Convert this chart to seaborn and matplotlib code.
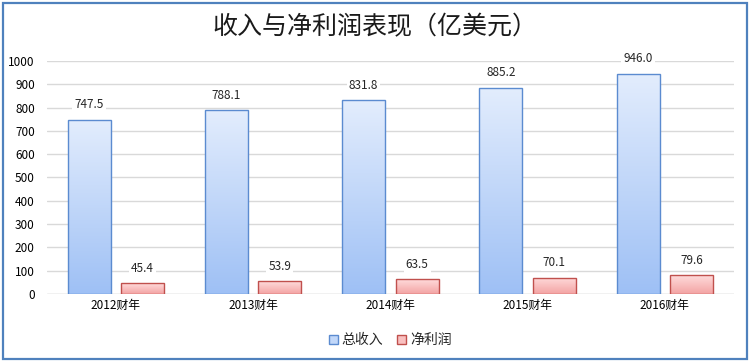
import numpy as np
import pandas as pd
import matplotlib
matplotlib.use("Agg")
import matplotlib.pyplot as plt
import seaborn as sns
from matplotlib.colors import LinearSegmentedColormap
from matplotlib.patches import Rectangle

years = ["2012财年", "2013财年", "2014财年", "2015财年", "2016财年"]
revenue = [747.5, 788.1, 831.8, 885.2, 946.0]
net_profit = [45.4, 53.9, 63.5, 70.1, 79.6]
series = ["总收入", "净利润"]
yticks = list(range(0, 1001, 100))

df = pd.DataFrame({
    "year": years * 2,
    "series": [series[0]] * len(years) + [series[1]] * len(years),
    "value": revenue + net_profit,
})

sns.set_theme(style="white")
plt.rcParams["font.family"] = ["Noto Sans CJK SC", "DejaVu Sans"]

fig = plt.figure(figsize=(7.5, 3.61), dpi=100)
ax = fig.add_axes([0.063, 0.186, 0.915, 0.645])

edge = {"总收入": "#5B8BD0", "净利润": "#C0504D"}
grad = {
    "总收入": LinearSegmentedColormap.from_list("b", ["#9EC0F5", "#E3EDFD"]),
    "净利润": LinearSegmentedColormap.from_list("r", ["#F3A3A3", "#FFDCDC"]),
}

sns.barplot(data=df, x="year", y="value", hue="series", hue_order=series,
            palette={"总收入": "#C6D9F7", "净利润": "#F9C4C4"},
            width=0.78, gap=0.2, ax=ax, legend=True, zorder=2)

ax.set_xlim(-0.5, 4.5)
ax.set_ylim(0, 1000)
ax.set_yticks(yticks)
ax.yaxis.grid(True, color="#D9D9D9", linewidth=1, zorder=0)
ax.set_axisbelow(True)
for s in ax.spines.values():
    s.set_visible(False)
ax.axhline(0, color="#D9D9D9", linewidth=1, zorder=1)
ax.set_xlabel("")
ax.set_ylabel("")
ax.tick_params(axis="both", length=0, labelsize=8.5, colors="black", pad=4)
ax.tick_params(axis="y", pad=9)

grad_img = np.linspace(0, 1, 256).reshape(-1, 1)
for cont, name in zip(ax.containers, series):
    for bar in cont:
        x0, y0 = bar.get_x(), bar.get_y()
        w, h = bar.get_width(), bar.get_height()
        bar.set_facecolor("none")
        bar.set_edgecolor(edge[name])
        bar.set_linewidth(1.0)
        bar.set_zorder(3)
        im = ax.imshow(grad_img, cmap=grad[name], aspect="auto", origin="lower",
                       extent=[x0, x0 + w, y0, y0 + h], zorder=2)
        im.set_clip_path(bar)
    ax.bar_label(cont, fmt="%.1f", padding=6, fontsize=8.5,
                 bbox=dict(facecolor="white", edgecolor="none", pad=1.5))

ax.set_xlim(-0.5, 4.5)
ax.set_ylim(0, 1000)

handles = [Rectangle((0, 0), 1, 1, facecolor=grad[n](0.5), edgecolor=edge[n], linewidth=1)
           for n in series]
ax.legend(handles, series, loc="upper center", bbox_to_anchor=(0.5, -0.115),
          ncol=2, frameon=False, fontsize=10, handlelength=0.6, handleheight=0.6,
          handletextpad=0.3, columnspacing=1.0)

fig.text(0.5, 0.925, "收入与净利润表现（亿美元）", ha="center", va="center",
         fontsize=18, color="#1a1a1a")

# outer frame
fig.patches.append(Rectangle((2.5 / 750, 2.5 / 361), 744 / 750, 356 / 361,
                             transform=fig.transFigure, facecolor="none",
                             edgecolor="#4F81BD", linewidth=1.6, zorder=1))

fig.savefig("out.png", dpi=100)
